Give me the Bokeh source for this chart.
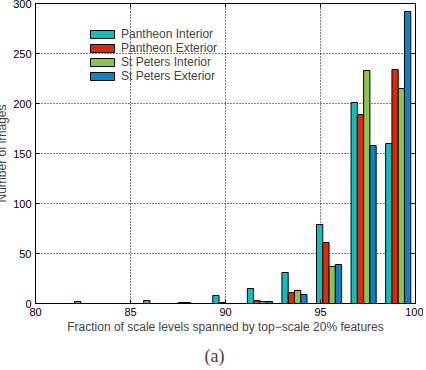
from bokeh.plotting import figure
from bokeh.models import (FixedTicker, LinearAxis, Legend, LegendItem, Title,
                          Range1d, ColumnDataSource, CustomJSTickFormatter)
from bokeh.embed import file_html
from bokeh.resources import INLINE

# ---- data ----
bin_centers = [82.71, 84.53, 86.35, 88.17, 89.99, 91.81, 93.63, 95.45, 97.27, 99.09]
series_names = ["Pantheon Interior", "Pantheon Exterior", "St Peters Interior", "St Peters Exterior"]
pantheon_interior = [2, 0, 3, 1, 8, 15, 31, 79, 201, 160]
pantheon_exterior = [0, 0, 0, 1, 1, 3, 11, 61, 189, 234]
stpeters_interior = [0, 0, 0, 0, 0, 2, 13, 37, 233, 215]
stpeters_exterior = [0, 0, 0, 0, 0, 2, 9, 39, 158, 292]
x_ticks = [80, 85, 90, 95, 100]
y_ticks = [0, 50, 100, 150, 200, 250, 300]

colors = ["#0cc0c0", "#dc2a06", "#8cc44c", "#0a84c8"]
series = [pantheon_interior, pantheon_exterior, stpeters_interior, stpeters_exterior]

FONT = "Liberation Sans"
bar_w = 0.33

p = figure(width=426, height=370, output_backend="svg", toolbar_location=None,
           x_range=Range1d(80, 100), y_range=Range1d(0, 300),
           min_border_left=38, min_border_right=8, min_border_top=4, min_border_bottom=66)
p.frame_width = 380
p.frame_height = 300
p.styles = {"margin-left": "-8px", "margin-top": "-1px", "margin-bottom": "-15px"}
p.background_fill_color = "white"
p.border_fill_color = "white"
p.outline_line_color = "black"
p.outline_line_width = 1

items = []
for i, (vals, name, col) in enumerate(zip(series, series_names, colors)):
    off = (i - 1.5) * bar_w
    src = ColumnDataSource(dict(x=[c + off for c in bin_centers], top=vals))
    r = p.vbar(x="x", top="top", bottom=0, width=bar_w, source=src,
               fill_color=col, line_color="black", line_width=1)
    items.append(LegendItem(label=name, renderers=[r]))

legend = Legend(items=items, location=(52, 220), border_line_color=None,
                background_fill_alpha=0, padding=0, margin=0, spacing=-2,
                glyph_width=30, glyph_height=10, label_height=10,
                label_standoff=4, label_text_font=FONT, label_text_font_size="12px")
p.add_layout(legend)

for ax in (p.xaxis[0], p.yaxis[0]):
    ax.major_tick_in = 4
    ax.major_tick_out = 0
    ax.minor_tick_line_color = None
    ax.major_label_text_font = FONT
    ax.major_label_text_font_size = "11px"
    ax.major_label_text_color = "black"
    ax.axis_label_text_font = FONT
    ax.axis_label_text_font_size = "12px"
    ax.axis_label_text_font_style = "normal"
    ax.axis_line_color = "black"
    ax.major_tick_line_color = "black"

p.xaxis.ticker = FixedTicker(ticks=x_ticks)
p.yaxis.ticker = FixedTicker(ticks=y_ticks)
p.xaxis.major_label_standoff = 4
p.yaxis.major_label_standoff = 4
p.xaxis.axis_label = "Fraction of scale levels spanned by top\u2212scale 20% features"
p.yaxis.axis_label = "Number of images"
p.xaxis.axis_label_standoff = 1
p.yaxis.axis_label_standoff = 1

# ticks on top and right sides (box style), no labels
for loc in ("above", "right"):
    ax = LinearAxis(ticker=FixedTicker(ticks=x_ticks if loc == "above" else y_ticks),
                    formatter=CustomJSTickFormatter(code="return ''"),
                    major_tick_in=4, major_tick_out=0, minor_tick_line_color=None,
                    major_label_standoff=0,
                    axis_line_color="black", major_tick_line_color="black")
    p.add_layout(ax, loc)

p.xgrid.ticker = FixedTicker(ticks=[85, 90, 95])
p.ygrid.ticker = FixedTicker(ticks=[50, 100, 150, 200, 250])
for g in (p.xgrid[0], p.ygrid[0]):
    g.grid_line_color = "black"
    g.grid_line_dash = "1 2"
    g.grid_line_width = 1

cap = Title(text="(a)", align="left", offset=169, text_font="Liberation Serif",
            text_font_size="18px", text_font_style="normal", standoff=15)
p.add_layout(cap, "below")

open("out.html", "w").write(file_html(p, INLINE))
